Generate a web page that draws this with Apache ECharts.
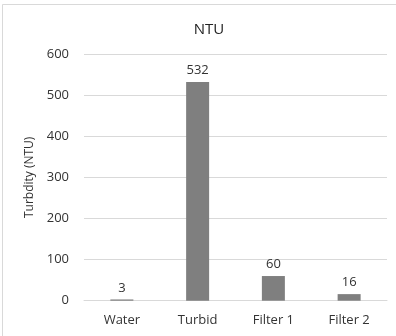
<!DOCTYPE html>
<html>
<head>
<meta charset="utf-8">
<script src="https://cdn.jsdelivr.net/npm/echarts@6/dist/echarts.min.js"></script>
<style>
html,body{margin:0;padding:0;background:#fff;}
#chart{width:396px;height:336px;}
</style>
</head>
<body>
<div id="chart"></div>
<script>
const categories = ['Water', 'Turbid', 'Filter 1', 'Filter 2'];
const turbidity = [3, 532, 60, 16];
const yTicks = { min: 0, max: 600, interval: 100 };

const font = 'Open Sans, Liberation Sans, sans-serif';
const chart = echarts.init(document.getElementById('chart'), null, { renderer: 'canvas' });
chart.setOption({
  animation: false,
  backgroundColor: '#fff',
  graphic: [{
    type: 'rect',
    shape: { x: 2.5, y: 4.5, width: 420, height: 360 },
    style: { fill: 'none', stroke: '#d9d9d9', lineWidth: 1 },
    silent: true
  }],
  title: {
    text: 'NTU',
    left: 204,
    top: 17,
    textAlign: 'center',
    textStyle: { fontFamily: font, fontSize: 15, fontWeight: 'normal', color: '#222' }
  },
  grid: { left: 84, right: 9, top: 54, bottom: 35.3 },
  xAxis: {
    type: 'category',
    data: categories,
    axisLine: { show: true, lineStyle: { color: '#d9d9d9', width: 1 } },
    axisTick: { show: false },
    axisLabel: { fontFamily: font, fontSize: 13, color: '#333', margin: 13 }
  },
  yAxis: {
    type: 'value',
    min: yTicks.min,
    max: yTicks.max,
    interval: yTicks.interval,
    name: 'Turbdity (NTU)',
    nameLocation: 'middle',
    nameGap: 46,
    nameTextStyle: { fontFamily: font, fontSize: 12, color: '#333' },
    axisLine: { show: false },
    axisTick: { show: false },
    splitLine: { lineStyle: { color: '#d9d9d9', width: 1 } },
    axisLabel: { fontFamily: font, fontSize: 13, color: '#333', margin: 15 }
  },
  series: [{
    type: 'bar',
    data: turbidity,
    barWidth: 23,
    itemStyle: { color: '#7f7f7f' },
    label: {
      show: true,
      position: 'top',
      distance: 5,
      fontFamily: font,
      fontSize: 13,
      color: '#333'
    }
  }]
});
</script>
</body>
</html>
